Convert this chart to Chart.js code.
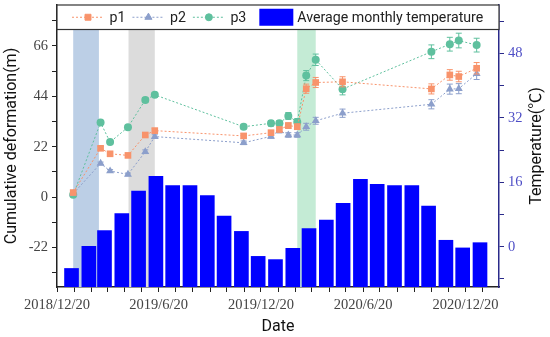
<!DOCTYPE html>
<html>
<head>
<meta charset="utf-8">
<script src="https://cdn.jsdelivr.net/npm/chart.js@4.4.1/dist/chart.umd.min.js"></script>
<style>
  html, body { margin: 0; padding: 0; background: #fff; }
  #wrap { width: 550px; height: 337px; }
</style>
</head>
<body>
<div id="wrap"><canvas id="chart"></canvas></div>
<script>
// observation dates of the deformation points
const obsDates = ["2019-01-18", "2019-03-08", "2019-03-25", "2019-04-26", "2019-05-27", "2019-06-13",
                  "2019-11-19", "2020-01-07", "2020-01-22", "2020-02-07", "2020-02-23", "2020-03-10",
                  "2020-03-27", "2020-05-14", "2020-10-20", "2020-11-22", "2020-12-08", "2021-01-09"];
const p1 = [2, 21.3, 18.9, 18.2, 27.1, 29, 26.7, 28.1, 29.5, 31.2, 30.7, 47.3, 50, 50.3, 47.2, 53.3, 52.6, 56.2];
const p2 = [1.5, 14.7, 11.4, 9.9, 19.8, 26.4, 23.7, 26.5, 29, 27.1, 27.1, 30.7, 33.3, 36.6, 40.5, 47.1, 47.3, 53.8];
const p3 = [1, 32.5, 24, 30.5, 42.4, 44.6, 30.7, 32.2, 32.2, 35.4, 32.8, 53, 59.9, 47.1, 63.4, 66.7, 68.3, 66.3];
const err1 = [0.5, 0.8, 0.8, 0.8, 0.8, 1, 1, 1, 1, 1.2, 1.2, 2, 2.2, 2.2, 2.2, 2.3, 2.3, 2.5];
const err2 = [0.5, 0.6, 0.6, 0.6, 0.8, 0.8, 0.8, 0.8, 1, 1, 1, 1.5, 1.5, 1.8, 2, 2.2, 2.2, 2.5];
const err3 = [0.5, 0.8, 0.8, 0.8, 1, 1, 1, 1.2, 1.2, 1.5, 1.5, 2.2, 2.5, 2.5, 3, 3, 3.2, 3];

// monthly mean temperature (°C)
const tempMonths = ["2019-01", "2019-02", "2019-03", "2019-04", "2019-05", "2019-06", "2019-07", "2019-08",
                    "2019-09", "2019-10", "2019-11", "2019-12", "2020-01", "2020-02", "2020-03", "2020-04",
                    "2020-05", "2020-06", "2020-07", "2020-08", "2020-09", "2020-10", "2020-11", "2020-12", "2021-01"];
const temps = [-5.4, 0.1, 4.0, 8.2, 13.8, 17.5, 15.2, 15.2, 12.7, 7.6, 3.8, -2.4, -3.2,
               -0.4, 4.5, 6.6, 10.8, 16.7, 15.5, 15.2, 15.2, 10.1, 1.6, -0.3, 1.0];

// shaded periods
const bandStart = ["2019-01-18", "2019-04-27", "2020-02-23"];
const bandEnd = ["2019-03-05", "2019-06-13", "2020-03-27"];
const bandColors = ["#bccfe6", "#dcdcdc", "#c4ebd5"];

// axis ticks
const xTickLabels = ["2018/12/20", "2019/6/20", "2019/12/20", "2020/6/20", "2020/12/20"];
const leftTicks = [-33, -22, -11, 0, 11, 22, 33, 44, 55, 66, 77];
const leftLabels = [-22, 0, 22, 44, 66];
const rightTicks = [-8, 0, 8, 16, 24, 32, 40, 48, 56];
const rightLabels = [0, 16, 32, 48];
const rightTitle = "Temperature(℃)";

const DAY0 = Date.UTC(2018, 11, 20);
function toDay(s) {
    const [y, m, d] = s.split(/[-\/]/).map(Number);
    return (Date.UTC(y, m - 1, d || 15) - DAY0) / 86400000;
}

const xMax = toDay("2021-02-18");
const xLabelMap = {};
xTickLabels.forEach(l => { xLabelMap[toDay(l)] = l; });

const c1 = "#f8936b", c2 = "#8c9fcb", c3 = "#5fc09e";

const bandsPlugin = {
    id: "bands",
    beforeDatasetsDraw(chart) {
        const { ctx, chartArea: { top, bottom }, scales: { x } } = chart;
        ctx.save();
        bandStart.forEach((s, i) => {
            const x0 = x.getPixelForValue(toDay(s));
            const x1 = x.getPixelForValue(toDay(bandEnd[i]));
            ctx.fillStyle = bandColors[i];
            ctx.fillRect(x0, top, x1 - x0, bottom - top);
        });
        ctx.restore();
    }
};

const errorBars = {
    id: "errorBars",
    beforeDatasetDraw(chart, args) {
        const ds = chart.data.datasets[args.index];
        if (!ds.errors) return;
        const y = chart.scales.y, ctx = chart.ctx;
        ctx.save();
        ctx.strokeStyle = ds.borderColor;
        ctx.lineWidth = 1;
        args.meta.data.forEach((pt, i) => {
            const v = ds.data[i].y, e = ds.errors[i];
            const t = y.getPixelForValue(v + e), b = y.getPixelForValue(v - e);
            ctx.beginPath();
            ctx.moveTo(pt.x, t); ctx.lineTo(pt.x, b);
            ctx.moveTo(pt.x - 3, t); ctx.lineTo(pt.x + 3, t);
            ctx.moveTo(pt.x - 3, b); ctx.lineTo(pt.x + 3, b);
            ctx.stroke();
        });
        ctx.restore();
    }
};

// legend box inside the top of the plot, and the right axis title (reads bottom-to-top)
const boxLegend = {
    id: "boxLegend",
    afterDraw(chart) {
        const { ctx, chartArea: { left, right, top, bottom } } = chart;
        const h = 24.5, cy = top + h / 2;
        ctx.save();
        ctx.fillStyle = "#fff";
        ctx.fillRect(left, top, right - left, h);
        ctx.strokeStyle = "#333";
        ctx.lineWidth = 1.2;
        ctx.strokeRect(left, top, right - left, h);
        ctx.font = "14.2px Roboto";
        ctx.textBaseline = "middle";
        let x = left + 15;
        chart.data.datasets.forEach(ds => {
            if (ds.type === "line") {
                ctx.strokeStyle = ds.borderColor;
                ctx.lineWidth = 1;
                ctx.setLineDash([2, 2]);
                ctx.beginPath(); ctx.moveTo(x, cy); ctx.lineTo(x + 32, cy); ctx.stroke();
                ctx.setLineDash([]);
                ctx.fillStyle = ds.backgroundColor;
                Chart.helpers.drawPoint(ctx, { pointStyle: ds.pointStyle, radius: ds.pointRadius - 0.5, rotation: 0, borderWidth: 1 }, x + 16, cy);
                x += 37.5;
                ctx.fillStyle = "#222";
                ctx.fillText(ds.label, x, cy + 1);
                x += ctx.measureText(ds.label).width + 7;
            } else {
                x += 6;
                ctx.fillStyle = ds.backgroundColor;
                ctx.fillRect(x, cy - 8.5, 34, 17);
                x += 38;
                ctx.fillStyle = "#222";
                ctx.fillText(ds.label, x, cy + 1);
            }
        });

        ctx.translate(chart.width - 13, (top + bottom) / 2);
        ctx.rotate(-Math.PI / 2);
        ctx.font = "16px Roboto, 'Noto Sans CJK SC'";
        ctx.textAlign = "center";
        ctx.fillStyle = "#111";
        ctx.fillText(rightTitle, 0, 0);
        ctx.restore();
    }
};

const serif = { family: "'Liberation Serif', 'Times New Roman', serif", size: 14.5 };
const sans = { family: "Roboto, 'Noto Sans', 'Noto Sans CJK SC', sans-serif", size: 16 };
const noPad = s => { s.paddingTop = 0; s.paddingBottom = 0; s.paddingLeft = 0; s.paddingRight = 0; };

new Chart(document.getElementById("chart"), {
    type: "bar",
    data: {
        datasets: [
            {
                type: "line", label: "p1", yAxisID: "y", order: 0,
                data: obsDates.map((d, i) => ({ x: toDay(d), y: p1[i] })), errors: err1,
                borderColor: c1, backgroundColor: c1, borderWidth: 1, borderDash: [2, 2],
                pointStyle: "rect", pointRadius: 4.7, pointBorderWidth: 0
            },
            {
                type: "line", label: "p2", yAxisID: "y", order: 0,
                data: obsDates.map((d, i) => ({ x: toDay(d), y: p2[i] })), errors: err2,
                borderColor: c2, backgroundColor: c2, borderWidth: 1, borderDash: [2, 2],
                pointStyle: "triangle", pointRadius: 4.6, pointBorderWidth: 0
            },
            {
                type: "line", label: "p3", yAxisID: "y", order: 0,
                data: obsDates.map((d, i) => ({ x: toDay(d), y: p3[i] })), errors: err3,
                borderColor: c3, backgroundColor: c3, borderWidth: 1, borderDash: [2, 2],
                pointStyle: "circle", pointRadius: 4, pointBorderWidth: 0
            },
            {
                type: "bar", label: "Average monthly temperature", yAxisID: "y1", order: 2,
                data: tempMonths.map((m, i) => ({ x: toDay(m + "-15"), y: temps[i] })),
                backgroundColor: "#0000ff", base: -10, barThickness: 14
            }
        ]
    },
    options: {
        responsive: true,
        maintainAspectRatio: false,
        animation: false,
        layout: { padding: { top: 5 } },
        plugins: { legend: { display: false }, tooltip: { enabled: false } },
        scales: {
            x: {
                type: "linear", min: 0, max: xMax, offset: false,
                afterFit: s => { s.height = 50; noPad(s); },
                afterBuildTicks: s => {
                    const t = [];
                    for (let k = 0; ; k++) {
                        const v = toDay(`${2018 + Math.floor((11 + k) / 12)}-${(11 + k) % 12 + 1}-20`);
                        if (v > xMax) break;
                        t.push({ value: v });
                    }
                    s.ticks = t;
                },
                ticks: {
                    autoSkip: false, maxRotation: 0, padding: 4, color: "#444", font: serif,
                    callback: v => xLabelMap[v] || ""
                },
                grid: { drawOnChartArea: false, offset: false, tickLength: 5, tickColor: "#222" },
                border: { color: "#222", width: 1.5 },
                title: { display: true, text: "Date", color: "#111", font: sans, padding: { top: 2, bottom: 0 } }
            },
            y: {
                type: "linear", position: "left", min: -39.2, max: 83.8,
                afterFit: s => { s.width = 57; noPad(s); },
                afterBuildTicks: s => { s.ticks = leftTicks.map(v => ({ value: v })); },
                ticks: {
                    padding: 4, color: "#444", font: serif,
                    callback: v => leftLabels.includes(v) ? String(v) : ""
                },
                grid: { drawOnChartArea: false, tickLength: 5, tickColor: "#222" },
                border: { color: "#222", width: 1.5 },
                title: { display: true, text: "Cumulative deformation(m)", color: "#111", font: sans, padding: { top: 2, bottom: 2 } }
            },
            y1: {
                type: "linear", position: "right", min: -10, max: 60,
                afterFit: s => { s.width = 51; noPad(s); },
                afterBuildTicks: s => { s.ticks = rightTicks.map(v => ({ value: v })); },
                ticks: {
                    padding: 4, color: "#4e4ec6", font: serif,
                    callback: v => rightLabels.includes(v) ? String(v) : ""
                },
                grid: { drawOnChartArea: false, tickLength: 5, tickColor: "#2a2a8a" },
                border: { color: "#2a2a8a", width: 1.5 }
            }
        }
    },
    plugins: [bandsPlugin, errorBars, boxLegend]
});
</script>
</body>
</html>
